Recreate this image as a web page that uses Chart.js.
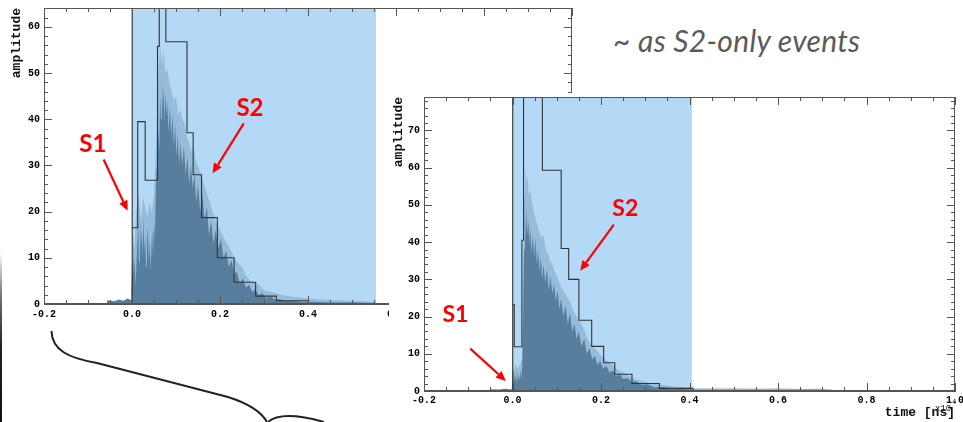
<!DOCTYPE html>
<html>
<head>
<meta charset="utf-8">
<script src="https://cdn.jsdelivr.net/npm/chart.js@4.4.1/dist/chart.umd.min.js"></script>
<style>
  html, body { margin: 0; padding: 0; background: #fff; }
  body { width: 963px; height: 422px; position: relative; overflow: hidden; }
  #left { position: absolute; left: 0; top: 0; }
  #brace { position: absolute; left: 0; top: 0; }
  #edge { position: absolute; left: 0; top: 252px; width: 2px; height: 170px;
          background: linear-gradient(to bottom, rgba(0,0,0,0), #777 25%, #222 55%, #111); }
  #panel { position: absolute; left: 389px; top: 93px; width: 574px; height: 329px; background: #fff; }
  #note { position: absolute; left: 613px; top: 25px; font: italic 30px/30px Lato, sans-serif;
          letter-spacing: 0.3px; color: #5a5a5a; white-space: nowrap; }
</style>
</head>
<body>
<canvas id="left" width="590" height="330"></canvas>
<svg id="brace" width="400" height="422">
  <path d="M51.5,331 C52,350 68,358 97,363 L228,397 C250,404 262,413 267,422" fill="none" stroke="#222" stroke-width="2"/>
  <path d="M268,422 C276,415 292,413 324,422" fill="none" stroke="#222" stroke-width="2"/>
</svg>
<div id="edge"></div>
<div id="panel"><canvas id="right" width="574" height="329"></canvas></div>
<div id="note">~ as S2-only events</div>

<script>
// ---- data (time in units of 10^4 ns) ----
const xMajorTicks = [-0.2, 0.0, 0.2, 0.4, 0.6, 0.8, 1.0];
const leftYTicks = [0, 10, 20, 30, 40, 50, 60];
const rightYTicks = [0, 10, 20, 30, 40, 50, 60, 70];

// highlighted (light blue) time window
const leftBand = [0.0, 0.5545];
const rightBand = [0.0, 0.406];

// black step histogram: bin edges and bin contents
const leftBinEdges = [0, 0.0007, 0.013, 0.030, 0.058, 0.062, 0.077, 0.125, 0.139, 0.158, 0.194, 0.232, 0.281, 0.328, 0.401];
const leftBinHeights = [150, 16.5, 39.5, 26.8, 55.8, 150, 56.8, 37.1, 28.0, 18.7, 10.0, 4.7, 1.7, 0.7];
const rightBinEdges = [0, 0.0007, 0.004, 0.0212, 0.025, 0.0675, 0.110, 0.127, 0.150, 0.179, 0.206, 0.231, 0.270, 0.332, 0.408, 0.720];
const rightBinHeights = [150, 23.2, 11.9, 40.5, 150, 59.3, 38.3, 30.0, 19.0, 12.0, 7.6, 4.5, 2.0, 0.7, 0.2];

// waveform, dense body
const leftDarkT = [-0.058, -0.056, -0.04, -0.03, -0.02, -0.01, -0.002,
  0.000, 0.002, 0.004, 0.006, 0.008, 0.010, 0.012, 0.014, 0.016, 0.018, 0.020, 0.022, 0.024, 0.026, 0.028,
  0.030, 0.032, 0.034, 0.036, 0.038, 0.040, 0.042, 0.044, 0.046, 0.048, 0.050, 0.052, 0.054, 0.056, 0.058,
  0.060, 0.062, 0.064, 0.066, 0.068, 0.070, 0.072, 0.074, 0.076, 0.078, 0.080,
  0.083, 0.086, 0.089, 0.092, 0.095, 0.098, 0.101, 0.104, 0.107, 0.110,
  0.114, 0.118, 0.122, 0.126, 0.130, 0.134, 0.138, 0.142, 0.146, 0.150,
  0.155, 0.160, 0.165, 0.170, 0.175, 0.180, 0.185, 0.190,
  0.196, 0.202, 0.208, 0.214, 0.220, 0.226, 0.232,
  0.238, 0.245, 0.252, 0.259, 0.266, 0.273, 0.280,
  0.288, 0.296, 0.305, 0.315, 0.325, 0.335, 0.350, 0.370, 0.390, 0.410, 0.450, 0.500, 0.550, 0.555];
const leftDarkA = [0, 0.8, 0.6, 1.0, 0.7, 1.2, 0.8,
  9, 14, 6, 10, 4, 8, 13, 18, 9, 20, 12, 16, 10, 19, 11,
  15, 8, 13, 17, 9, 14, 7, 12, 16, 10, 18, 14, 24, 30, 26,
  38, 33, 45, 40, 48, 42, 47, 39, 46, 41, 44,
  37, 43, 36, 41, 34, 39, 32, 37, 30, 35,
  30, 34, 28, 32, 26, 30, 25, 28, 22, 26,
  20, 24, 18, 21, 15, 18, 13, 16,
  12, 14, 10, 11.5, 8, 9.5, 6.5,
  7, 4.5, 5.5, 3.5, 4.2, 2.6, 3.2,
  1.9, 2.4, 1.3, 1.6, 0.9, 1.1, 0.6, 0.7, 0.4, 0.5, 0.3, 0.3, 0.2, 0];

// waveform, sparse spike tips
const leftLightT = [0.000, 0.001, 0.005, 0.010, 0.015, 0.020, 0.025, 0.030, 0.035, 0.040, 0.045, 0.050,
  0.055, 0.060, 0.064, 0.068, 0.072, 0.076, 0.080, 0.085, 0.090, 0.095, 0.100, 0.105, 0.110,
  0.115, 0.120, 0.125, 0.130, 0.135, 0.140, 0.145, 0.150, 0.160, 0.170, 0.180, 0.190, 0.200,
  0.210, 0.220, 0.230, 0.240, 0.250, 0.260, 0.270, 0.280, 0.290, 0.300, 0.320, 0.340, 0.360,
  0.380, 0.400, 0.430, 0.460, 0.500, 0.554, 0.555];
const leftLightA = [0, 17, 12, 20, 24, 18, 23, 21, 19, 22, 20, 24,
  35, 50, 56, 52, 55, 50, 51, 48, 46, 44, 45, 41, 42,
  40, 39, 36, 35, 33, 34, 31, 30, 27, 24, 21, 18, 16,
  14, 12.5, 10.5, 9, 8, 6, 5, 4.5, 4, 3, 2.5, 2, 1.6,
  1.4, 1.2, 1, 0.8, 0.7, 0.5, 0];

const rightDarkT = [-0.05, -0.048, -0.03, -0.015, -0.002,
  0.000, 0.002, 0.004, 0.006, 0.008, 0.010, 0.012, 0.014, 0.016, 0.018, 0.020, 0.022, 0.024, 0.026, 0.028,
  0.030, 0.032, 0.034, 0.036, 0.038, 0.040,
  0.043, 0.046, 0.049, 0.052, 0.055, 0.058, 0.061, 0.064, 0.067, 0.070,
  0.074, 0.078, 0.082, 0.086, 0.090, 0.094, 0.098, 0.102, 0.106, 0.110,
  0.115, 0.120, 0.125, 0.130, 0.135, 0.140, 0.145, 0.150,
  0.156, 0.162, 0.168, 0.174, 0.180, 0.186, 0.192, 0.198,
  0.205, 0.212, 0.219, 0.226, 0.234, 0.242, 0.250, 0.260, 0.270, 0.280, 0.292, 0.305,
  0.320, 0.340, 0.360, 0.380, 0.400, 0.410, 0.450, 0.500, 0.600, 0.700, 0.720];
const rightDarkA = [0, 0.5, 0.4, 0.6, 0.4,
  3, 6, 2.5, 5, 3, 6, 2, 4.5, 3, 5.5, 3, 7, 20, 38, 47,
  40, 49, 42, 46, 39, 44,
  37, 42, 36, 41, 34, 38, 32, 36, 30, 34,
  29, 33, 27, 31, 26, 29, 24, 27, 22, 25,
  20, 23, 18, 21, 16, 18, 14, 16,
  12, 14, 10, 11.5, 8.5, 9.5, 7, 8,
  6, 6.8, 5, 5.5, 4, 4.5, 3.2, 3.5, 2.4, 2.6, 1.7, 1.8,
  1, 1.1, 0.6, 0.7, 0.4, 0.3, 0.15, 0.2, 0.15, 0.15, 0];

const rightLightT = [0.000, 0.001, 0.006, 0.012, 0.018, 0.022, 0.024, 0.026, 0.028, 0.031, 0.034, 0.037,
  0.040, 0.045, 0.050, 0.055, 0.060, 0.065, 0.070, 0.075, 0.080, 0.085, 0.090, 0.095, 0.100,
  0.110, 0.120, 0.130, 0.140, 0.150, 0.160, 0.170, 0.180, 0.190, 0.200, 0.210, 0.220, 0.230,
  0.240, 0.250, 0.260, 0.270, 0.280, 0.300, 0.320, 0.340, 0.360, 0.380, 0.400, 0.410,
  0.450, 0.500, 0.550, 0.600, 0.650, 0.700, 0.720];
const rightLightA = [0, 5, 7, 6, 7.5, 9, 30, 52, 60, 56, 58, 52,
  54, 50, 47, 45, 43, 41, 42, 38, 37, 35, 34, 32, 31,
  28, 26, 24, 21, 19, 17, 14, 12, 11, 9.5, 8.5, 7.5, 6.5,
  5.5, 5, 4.2, 3.6, 3, 2.5, 2, 1.6, 1.3, 1.1, 1, 0.8,
  0.8, 0.9, 0.7, 0.8, 0.6, 0.7, 0];

// ---- look ----
const MONO = '"Liberation Mono", "DejaVu Sans Mono", monospace';
const DARK = 'rgb(88,126,158)';
const LIGHT = 'rgba(88,126,158,0.32)';
const BAND = 'rgb(179,217,246)';
const FRAME = '#555';

function zip(ts, as) { return ts.map((t, i) => ({ x: t, y: as[i] })); }

function stepPoints(edges, heights) {
  const pts = [{ x: edges[0], y: 0 }];
  heights.forEach((h, i) => { pts.push({ x: edges[i], y: h }, { x: edges[i + 1], y: h }); });
  pts.push({ x: edges[edges.length - 1], y: 0 });
  return pts;
}

function bandPoints(b, top) {
  return [{ x: b[0], y: 0 }, { x: b[0], y: top }, { x: b[1], y: top }, { x: b[1], y: 0 }];
}

// ROOT-style frame with ticks pointing inward on all four sides
function frameTicks() {
  return {
    id: 'frameTicks',
    afterDatasetsDraw(chart) {
      const { ctx, chartArea: a, scales: { x, y } } = chart;
      ctx.save();
      ctx.strokeStyle = FRAME;
      ctx.lineWidth = 1;
      ctx.beginPath();
      for (let i = 0; x.min + i * 0.05 <= x.max + 1e-9; i++) {
        const px = Math.round(x.getPixelForValue(x.min + i * 0.05)) + 0.5;
        const len = i % 4 === 0 ? 8 : 4;
        ctx.moveTo(px, a.bottom); ctx.lineTo(px, a.bottom - len);
        ctx.moveTo(px, a.top); ctx.lineTo(px, a.top + len);
      }
      for (let v = 0; v <= y.max; v += 2) {
        const py = Math.round(y.getPixelForValue(v)) + 0.5;
        const len = v % 10 === 0 ? 8 : 4;
        ctx.moveTo(a.left, py); ctx.lineTo(a.left + len, py);
        ctx.moveTo(a.right, py); ctx.lineTo(a.right - len, py);
      }
      ctx.stroke();
      ctx.strokeRect(Math.round(a.left) + 0.5, Math.round(a.top) + 0.5,
        Math.round(a.right - a.left) - 1, Math.round(a.bottom - a.top) - 1);
      ctx.restore();
    }
  };
}

// red S1 / S2 labels and arrows, placed in data coordinates
function redMarks(labels, arrows, size) {
  return {
    id: 'redMarks',
    afterDraw(chart) {
      const { ctx, scales: { x, y } } = chart;
      ctx.save();
      ctx.fillStyle = ctx.strokeStyle = '#f00';
      ctx.font = `bold ${size}px Lato, sans-serif`;
      ctx.textAlign = 'center';
      ctx.textBaseline = 'middle';
      labels.forEach((l) => ctx.fillText(l.text, x.getPixelForValue(l.x), y.getPixelForValue(l.y)));
      ctx.lineWidth = 2.2;
      arrows.forEach((ar) => {
        const x0 = x.getPixelForValue(ar.from[0]), y0 = y.getPixelForValue(ar.from[1]);
        const x1 = x.getPixelForValue(ar.to[0]), y1 = y.getPixelForValue(ar.to[1]);
        const ang = Math.atan2(y1 - y0, x1 - x0);
        const hl = 10, hw = 4.5;
        const bx = x1 - hl * Math.cos(ang), by = y1 - hl * Math.sin(ang);
        ctx.beginPath(); ctx.moveTo(x0, y0); ctx.lineTo(bx, by); ctx.stroke();
        ctx.beginPath();
        ctx.moveTo(x1, y1);
        ctx.lineTo(bx + hw * Math.sin(ang), by - hw * Math.cos(ang));
        ctx.lineTo(bx - hw * Math.sin(ang), by + hw * Math.cos(ang));
        ctx.closePath(); ctx.fill();
      });
      ctx.restore();
    }
  };
}

const expLabel = {
  id: 'expLabel',
  afterDraw(chart) {
    const { ctx, chartArea: a } = chart;
    ctx.save();
    ctx.fillStyle = '#111';
    ctx.font = `9px ${MONO}`;
    ctx.textAlign = 'left';
    ctx.fillText('x10', a.right - 20, a.bottom + 20);
    ctx.font = `7px ${MONO}`;
    ctx.fillText('4', a.right - 3, a.bottom + 13);
    ctx.restore();
  }
};

function makeChart(id, c) {
  return new Chart(document.getElementById(id), {
    type: 'line',
    data: {
      datasets: [
        { data: stepPoints(c.edges, c.heights), borderColor: '#333', borderWidth: 1.1, fill: false, order: 0 },
        { data: zip(c.darkT, c.darkA), borderColor: 'transparent', borderWidth: 0, backgroundColor: DARK, fill: 'origin', order: 1 },
        { data: zip(c.lightT, c.lightA), borderColor: 'transparent', borderWidth: 0, backgroundColor: LIGHT, fill: 'origin', order: 2 },
        { data: bandPoints(c.band, c.yMax), borderColor: 'transparent', borderWidth: 0, backgroundColor: BAND, fill: 'origin', order: 3 },
      ],
    },
    options: {
      responsive: false,
      animation: false,
      devicePixelRatio: 1,
      events: [],
      elements: { point: { radius: 0 }, line: { tension: 0 } },
      layout: { padding: c.padding, autoPadding: false },
      plugins: { legend: { display: false }, tooltip: { enabled: false } },
      scales: {
        x: {
          type: 'linear', min: -0.2, max: 1.0,
          grid: { display: false, drawTicks: false },
          border: { color: FRAME },
          afterBuildTicks: (s) => { s.ticks = xMajorTicks.map((v) => ({ value: v })); },
          ticks: {
            padding: c.xPad, color: '#000', autoSkip: false, maxRotation: 0,
            font: { family: MONO, size: 10, weight: 'bold' },
            callback: (v) => Number(v).toFixed(1),
          },
          title: c.xTitle,
          afterFit: (s) => { s.height = c.xH; s.paddingLeft = 0; s.paddingRight = 0; },
        },
        y: {
          min: 0, max: c.yMax,
          grid: { display: false, drawTicks: false },
          border: { color: FRAME },
          afterBuildTicks: (s) => { s.ticks = c.yTicks.map((v) => ({ value: v })); },
          ticks: { padding: 4, color: '#000', font: { family: MONO, size: 10, weight: 'bold' }, callback: (v) => String(v) },
          title: {
            display: true, text: 'amplitude', align: 'end', color: '#111',
            font: { family: MONO, size: 13, weight: 'bold' }, padding: { top: c.yTitlePad, bottom: 0 },
          },
          afterFit: (s) => { s.width = c.yW; s.paddingTop = 0; s.paddingBottom = 0; },
        },
      },
    },
    plugins: c.plugins,
  });
}

function draw() {
  makeChart('left', {
    edges: leftBinEdges, heights: leftBinHeights,
    darkT: leftDarkT, darkA: leftDarkA, lightT: leftLightT, lightA: leftLightA,
    band: leftBand, yMax: 64.1, yTicks: leftYTicks,
    padding: { left: 0, right: 18, top: 8, bottom: 0 },
    yW: 44, xH: 26, xPad: 4, yTitlePad: 9,
    xTitle: { display: false },
    plugins: [frameTicks(), redMarks(
      [{ text: 'S1', x: -0.089, y: 34.6 }, { text: 'S2', x: 0.268, y: 42.3 }],
      [{ from: [-0.0645, 31.3], to: [-0.010, 20.2] }, { from: [0.254, 39.1], to: [0.183, 28.3] }],
      24)],
  });

  makeChart('right', {
    edges: rightBinEdges, heights: rightBinHeights,
    darkT: rightDarkT, darkA: rightDarkA, lightT: rightLightT, lightA: rightLightA,
    band: rightBand, yMax: 79, yTicks: rightYTicks,
    padding: { left: 0, right: 8, top: 4, bottom: 0 },
    yW: 35, xH: 31, xPad: 3, yTitlePad: 2,
    xTitle: {
      display: true, text: 'time [ns]', align: 'end', color: '#111',
      font: { family: MONO, size: 13, weight: 'bold' }, padding: { top: 0, bottom: 1 },
    },
    plugins: [frameTicks(), expLabel, redMarks(
      [{ text: 'S1', x: -0.129, y: 20.5 }, { text: 'S2', x: 0.255, y: 48.9 }],
      [{ from: [-0.0955, 11.4], to: [-0.015, 2.7] }, { from: [0.229, 44.7], to: [0.153, 32.3] }],
      23)],
  });
}

Promise.all([
  document.fonts.load('bold 24px Lato'),
  document.fonts.load('italic 30px Lato'),
  document.fonts.load('bold 10px "Liberation Mono"'),
  document.fonts.load('bold 13px "Liberation Mono"'),
]).then(draw, draw);
</script>
</body>
</html>
